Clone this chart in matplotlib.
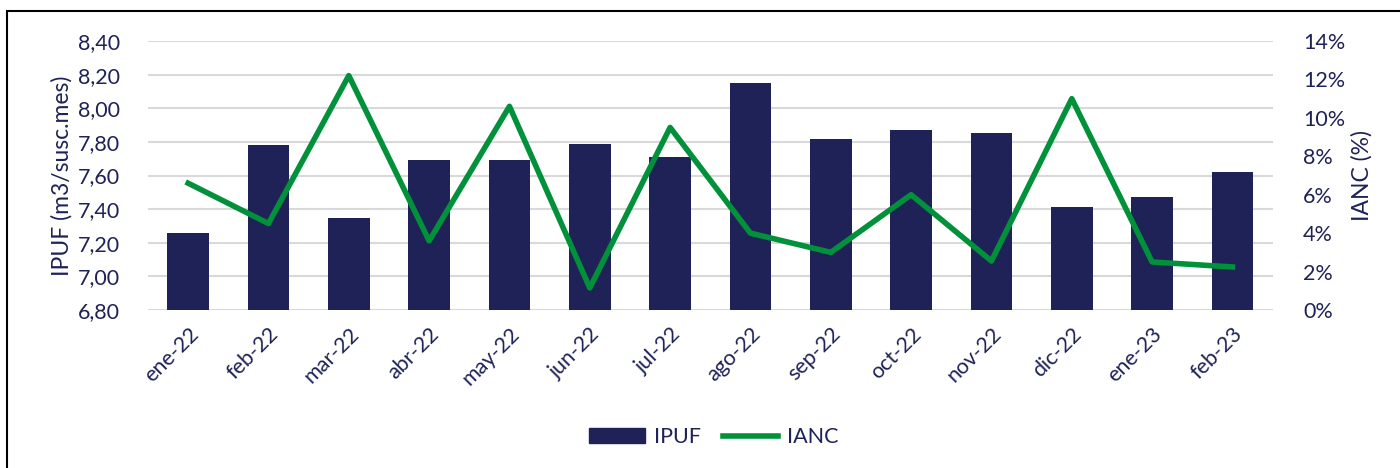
import matplotlib.pyplot as plt
import matplotlib.patches as mpatches
import numpy as np
from matplotlib.ticker import FuncFormatter

meses = ['ene-22', 'feb-22', 'mar-22', 'abr-22', 'may-22', 'jun-22', 'jul-22',
         'ago-22', 'sep-22', 'oct-22', 'nov-22', 'dic-22', 'ene-23', 'feb-23']
ipuf = [7.26, 7.78, 7.35, 7.69, 7.69, 7.79, 7.71, 8.15, 7.82, 7.87, 7.85, 7.41, 7.47, 7.62]
ianc = [6.6, 4.5, 12.2, 3.6, 10.6, 1.15, 9.5, 4.0, 3.0, 6.0, 2.55, 11.0, 2.5, 2.24]

AZUL = '#1F2257'
VERDE = '#00913A'
GRIS = '#D9D9D9'

plt.rcParams['font.family'] = ['Lato', 'DejaVu Sans']

fig = plt.figure(figsize=(14, 4.68), dpi=100)
ax = fig.add_axes([0.1057, 0.3376, 0.909 - 0.1057, 0.9124 - 0.3376])
ax2 = ax.twinx()

x = np.arange(len(meses))
ax.bar(x, ipuf, width=0.52, color=AZUL, zorder=2, label='IPUF')
ax.set_ylim(6.8, 8.4)
ax.set_yticks(np.arange(6.8, 8.41, 0.2))
ax.yaxis.set_major_formatter(FuncFormatter(lambda v, p: f'{v:.2f}'.replace('.', ',')))
ax.set_xlim(-0.5, len(meses) - 0.5)
ax.set_xticks(x)
ax.set_xticklabels(meses, rotation=45, ha='right', rotation_mode='anchor')
ax.grid(axis='y', color=GRIS, linewidth=1.5, zorder=0)
ax.set_axisbelow(True)

ax2.plot(x, ianc, color=VERDE, linewidth=4, zorder=3, label='IANC')
ax2.set_ylim(0, 14)
ax2.set_yticks(np.arange(0, 15, 2))
ax2.yaxis.set_major_formatter(FuncFormatter(lambda v, p: f'{v:.0f}%'))

for a in (ax, ax2):
    for s in a.spines.values():
        s.set_visible(False)
    a.tick_params(length=0, labelsize=15.5, colors=AZUL)
ax.tick_params(axis='y', pad=20)
ax.tick_params(axis='x', pad=10)
ax2.tick_params(axis='y', pad=22)

ax.set_ylabel('IPUF (m3/susc.mes)', fontsize=16.5, color=AZUL, va='center')
ax.yaxis.set_label_coords(-0.0768, 0.5)
ax2.set_ylabel('IANC (%)', fontsize=16.5, color=AZUL, va='center')
ax2.yaxis.set_label_coords(1.0795, 0.5)

handles = [mpatches.Patch(color=AZUL, label='IPUF'),
           plt.Line2D([], [], color=VERDE, linewidth=4, label='IANC')]
fig.legend(handles=handles, loc='center', bbox_to_anchor=(0.51, 0.066), ncol=2,
           frameon=False, fontsize=15.5, labelcolor=AZUL, handlelength=2.6,
           handletextpad=0.4, columnspacing=1.0)

frame = mpatches.Rectangle((7 / 1400, -0.5), 2, 1.5 - 11 / 468, transform=fig.transFigure,
                           fill=False, edgecolor='black', linewidth=1.5)
fig.patches.append(frame)

fig.savefig('out.png', dpi=100, facecolor='white')
